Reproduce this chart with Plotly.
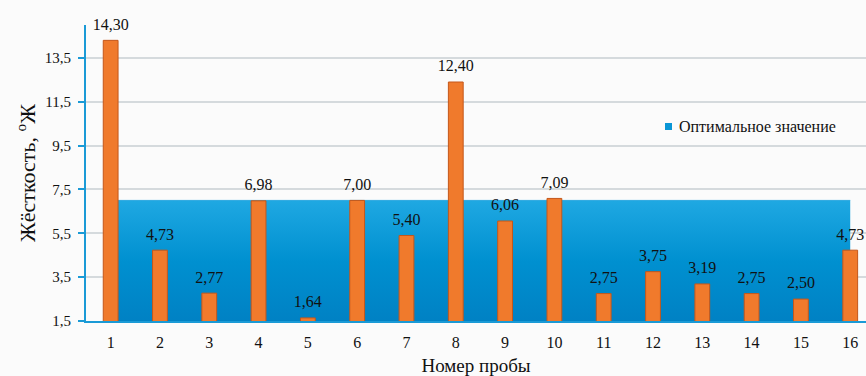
import plotly.graph_objects as go

# Sample numbers and measured hardness
samples = list(range(1, 17))
hardness = [14.30, 4.73, 2.77, 6.98, 1.64, 7.00, 5.40, 12.40,
            6.06, 7.09, 2.75, 3.75, 3.19, 2.75, 2.50, 4.73]
# Optimal (recommended) hardness level
optimal = [7.0] * len(samples)
optimal_name = "Оптимальное значение"

y_ticks = [1.5, 3.5, 5.5, 7.5, 9.5, 11.5, 13.5]

SERIF = "Liberation Serif"
AXIS_BLUE = "#1a9ad6"
BAND_BLUE = "#0a96d6"
X_RANGE = [0.5, 16.32]
Y_RANGE = [1.5, 15.0]

fig = go.Figure()

# Optimal value band drawn as a filled area on the base axes (behind the bars)
fig.add_trace(go.Scatter(
    x=samples, y=optimal, mode="lines",
    line=dict(color="#2aa8e0", width=1),
    fill="tozeroy",
    fillgradient=dict(type="vertical",
                      colorscale=[[0, "#0079bd"], [0.6, "#0090d0"], [1, "#1fa8e2"]]),
    name=optimal_name, showlegend=False, hoverinfo="skip",
    xaxis="x", yaxis="y",
))

# Measured hardness bars on an overlaid pair of axes so they sit on top
fig.add_trace(go.Bar(
    x=samples, y=hardness, width=0.3,
    marker=dict(color="#f07a2c", line=dict(color="#c4571a", width=1)),
    showlegend=False,
    xaxis="x2", yaxis="y2",
))

# Value labels above the bars (transparent markers keep a small gap)
fig.add_trace(go.Scatter(
    x=samples, y=hardness, mode="markers+text",
    marker=dict(size=9, opacity=0),
    text=[f"{v:.2f}".replace(".", ",") for v in hardness],
    textposition="top center",
    textfont=dict(family=SERIF, size=16, color="#111111"),
    cliponaxis=False, showlegend=False, hoverinfo="skip",
    xaxis="x2", yaxis="y2",
))

# Legend key for the optimal band: small square plus caption
legend_shapes = [dict(
    type="rect", xref="paper", yref="paper",
    x0=0.7423, x1=0.7513, y0=0.6453, y1=0.6689,
    fillcolor=BAND_BLUE, line=dict(width=0),
)]
legend_notes = [dict(
    xref="paper", yref="paper", x=0.7577, y=0.657,
    xanchor="left", yanchor="middle", showarrow=False,
    text=optimal_name, font=dict(family=SERIF, size=16, color="#111111"),
)]

fig.update_layout(
    width=866, height=376,
    margin=dict(l=86, r=0, t=25, b=55),
    paper_bgcolor="#fbfbfb", plot_bgcolor="#fbfbfb",
    font=dict(family=SERIF, color="#111111"),
    showlegend=False,
    shapes=legend_shapes,
    annotations=legend_notes,
    xaxis=dict(
        range=X_RANGE, tickmode="array", tickvals=samples,
        ticktext=[str(s) for s in samples],
        showgrid=False, zeroline=False,
        showline=True, linecolor=AXIS_BLUE, linewidth=2,
        ticks="", ticklabelstandoff=6, tickfont=dict(family=SERIF, size=16),
        title=dict(text="Номер пробы", font=dict(family=SERIF, size=19), standoff=10),
    ),
    yaxis=dict(
        range=Y_RANGE, tickmode="array", tickvals=y_ticks,
        ticktext=[f"{t:.1f}".replace(".", ",") for t in y_ticks],
        showgrid=True, gridcolor="#d5dadd", gridwidth=1.5, zeroline=False,
        showline=True, linecolor=AXIS_BLUE, linewidth=2,
        ticks="outside", ticklen=6, tickcolor=AXIS_BLUE, tickwidth=2,
        ticklabelstandoff=4,
        tickfont=dict(family=SERIF, size=15),
        title=dict(text="Жёсткость, <sup>о</sup>Ж", font=dict(family=SERIF, size=22), standoff=3),
    ),
    xaxis2=dict(range=X_RANGE, overlaying="x", visible=False),
    yaxis2=dict(range=Y_RANGE, overlaying="y", visible=False),
)

fig.write_html("out.html")
